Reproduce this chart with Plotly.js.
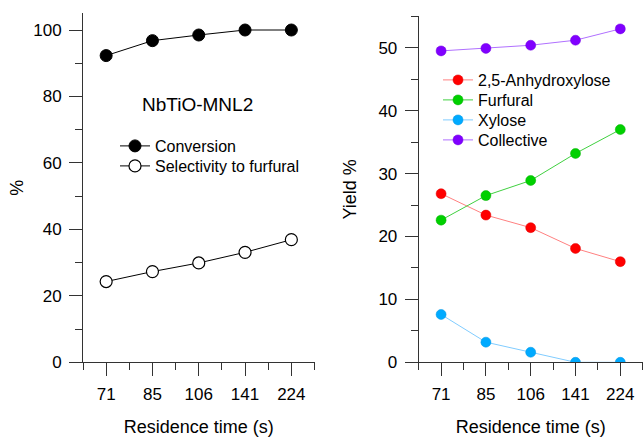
<!DOCTYPE html>
<html>
<head>
<meta charset="utf-8">
<script src="https://cdn.plot.ly/plotly-3.0.1.min.js"></script>
<style>html,body{margin:0;padding:0;background:#fff;}#chart{width:643px;height:437px;}</style>
</head>
<body>
<div id="chart"></div>
<script>
// Residence time categories (s)
const residenceTimes = ['71', '85', '106', '141', '224'];

// Left panel (%)
const conversion = [92.3, 96.8, 98.5, 100, 100];
const selectivityFurfural = [24.3, 27.3, 29.9, 33.1, 36.9];

// Right panel (Yield %)
const anhydroxylose = [26.8, 23.4, 21.4, 18.1, 16.0];
const furfural = [22.6, 26.5, 28.9, 33.2, 37.0];
const xylose = [7.6, 3.2, 1.6, 0, 0];
const collective = [49.5, 49.9, 50.4, 51.2, 53.0];

const xpos = residenceTimes.map((_, i) => i);
const FONT = 'Liberation Sans, Arial, sans-serif';

const traces = [
  {x: xpos, y: conversion, name: 'Conversion', mode: 'lines+markers', xaxis: 'x', yaxis: 'y', legend: 'legend',
   line: {color: '#000', width: 1}, marker: {size: 12, color: '#000', line: {color: '#000', width: 1}}},
  {x: xpos, y: selectivityFurfural, name: 'Selectivity to furfural', mode: 'lines+markers', xaxis: 'x', yaxis: 'y', legend: 'legend2',
   line: {color: '#000', width: 1}, marker: {size: 12, color: '#fff', line: {color: '#000', width: 1.2}}},
  {x: xpos, y: anhydroxylose, name: '2,5-Anhydroxylose', mode: 'lines+markers', xaxis: 'x2', yaxis: 'y2', legend: 'legend3',
   line: {color: '#ff8080', width: 1}, marker: {size: 10, color: '#ff0000', line: {color: '#e00000', width: 0.5}}},
  {x: xpos, y: furfural, name: 'Furfural', mode: 'lines+markers', xaxis: 'x2', yaxis: 'y2', legend: 'legend4',
   line: {color: '#40d040', width: 1}, marker: {size: 10, color: '#00d000', line: {color: '#00b000', width: 0.5}}},
  {x: xpos, y: xylose, name: 'Xylose', mode: 'lines+markers', xaxis: 'x2', yaxis: 'y2', legend: 'legend5',
   line: {color: '#80ccff', width: 1}, marker: {size: 10, color: '#00aaff', line: {color: '#0095e0', width: 0.5}}},
  {x: xpos, y: collective, name: 'Collective', mode: 'lines+markers', xaxis: 'x2', yaxis: 'y2', legend: 'legend6',
   line: {color: '#b070ff', width: 1}, marker: {size: 10, color: '#8000ff', line: {color: '#7000e0', width: 0.5}}}
];

const W = 643, H = 437;
const xaxisCommon = {
  range: [-0.5, 4.5], tickmode: 'array', tickvals: xpos, ticktext: residenceTimes,
  showline: true, linecolor: '#333', linewidth: 1, ticks: 'outside', ticklen: 13, tickcolor: '#333',
  showgrid: false, zeroline: false, tickfont: {family: FONT, size: 17, color: '#000'}, ticklabelstandoff: 3,
  minor: {ticks: 'outside', tick0: -0.5, dtick: 1, ticklen: 7, tickcolor: '#333'},
  title: {text: 'Residence time (s)', font: {family: FONT, size: 18, color: '#000'}, standoff: 24}
};
const yaxisCommon = {
  showline: true, linecolor: '#333', linewidth: 1, ticks: 'outside', ticklen: 13, tickcolor: '#333',
  showgrid: false, zeroline: false, tickfont: {family: FONT, size: 17, color: '#000'}, ticklabelstandoff: 4
};

function legendAt(x, top) {
  return {x: x / W, y: 1 - top / H, xanchor: 'left', yanchor: 'top', bgcolor: 'rgba(0,0,0,0)',
    font: {family: FONT, size: 16, color: '#000'}, itemwidth: 30, tracegroupgap: 0};
}

const layout = {
  width: W, height: H,
  margin: {l: 0, r: 0, t: 0, b: 0},
  paper_bgcolor: '#fff', plot_bgcolor: '#fff',
  font: {family: FONT, color: '#000'},
  xaxis: Object.assign({}, xaxisCommon, {domain: [83 / W, 314.5 / W], anchor: 'y'}),
  xaxis2: Object.assign({}, xaxisCommon, {domain: [418.7 / W, 642.7 / W], anchor: 'y2'}),
  yaxis: Object.assign({}, yaxisCommon, {domain: [1 - 362.3 / H, 1 - 13.4 / H], anchor: 'x', range: [0, 105], dtick: 20,
    minor: {ticks: 'outside', dtick: 10, ticklen: 7, tickcolor: '#333'},
    title: {text: '%', font: {family: FONT, size: 18, color: '#000'}, standoff: 4}}),
  yaxis2: Object.assign({}, yaxisCommon, {domain: [1 - 362.3 / H, 1 - 16.3 / H], anchor: 'x2', range: [0, 55], dtick: 10,
    minor: {ticks: 'outside', dtick: 5, ticklen: 7, tickcolor: '#333'},
    title: {text: 'Yield %', font: {family: FONT, size: 18, color: '#000'}, standoff: 17}}),
  legend: legendAt(115, 129),
  legend2: legendAt(115, 149),
  legend3: legendAt(438, 63),
  legend4: legendAt(438, 83),
  legend5: legendAt(438, 103),
  legend6: legendAt(438, 123),
  showlegend: true,
  annotations: [
    {text: 'NbTiO-MNL2', xref: 'paper', yref: 'paper', x: 197 / W, y: 1 - 104 / H, xanchor: 'center', yanchor: 'middle',
     showarrow: false, font: {family: FONT, size: 19, color: '#000'}}
  ]
};

Plotly.newPlot('chart', traces, layout, {displayModeBar: false, staticPlot: true});
</script>
</body>
</html>
